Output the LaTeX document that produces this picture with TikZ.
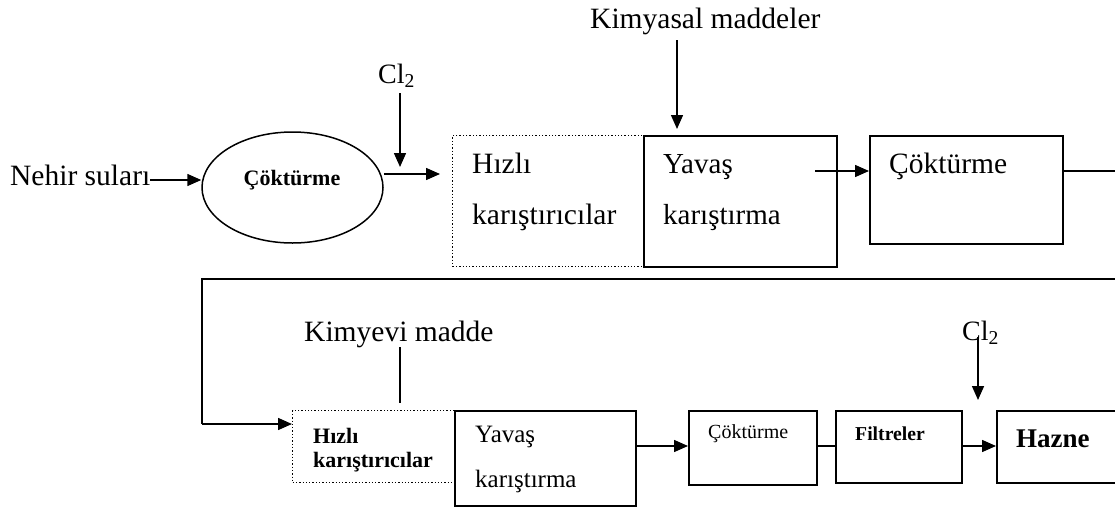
\documentclass[tikz,border=0pt]{standalone}
\usepackage{fontspec}
\setmainfont{Liberation Serif}
\usetikzlibrary{arrows.meta,shapes.geometric}
\tikzset{
 ln/.style={line width=1.5pt},
 arr/.style={line width=1.5pt,-{Triangle[length=14pt,width=12pt]}},
 box/.style={draw,line width=1.5pt,inner sep=0pt,anchor=north west},
 dbox/.style={draw,dotted,line width=1.3pt,inner sep=0pt,anchor=north west},
 lbl/.style={anchor=base west,inner sep=0pt},
}
\newcommand{\fsz}[1]{\fontsize{#1}{#1}\selectfont}
\begin{document}
\begin{tikzpicture}[x=1pt,y=-1pt]
\useasboundingbox (0,0) rectangle (1115,506);
\clip (0,0) rectangle (1115,506);

% ---------- top row ----------
\node[lbl,font=\fsz{29.5}] (nehir) at (10,185) {Nehir suları};
\node[draw,ellipse,line width=1.5pt,minimum width=181pt,minimum height=111pt,inner sep=0pt] (e1) at (292.5,187.5) {};
\node[anchor=base,font=\fsz{22}\bfseries,inner sep=0pt] (e1t) at (292,185) {Çöktürme};
\node[lbl,font=\fsz{28}] (cl1) at (378,83) {Cl\textsubscript{2}};
\node[lbl,font=\fsz{29.5}] (kim1) at (590,28) {Kimyasal maddeler};

\node[dbox,minimum width=191pt,minimum height=131pt] (hz1) at (452,135) {};
\node[box,minimum width=193pt,minimum height=131pt] (yv1) at (643,135) {};
\node[box,minimum width=193pt,minimum height=108pt] (ck1) at (869,135) {};

\node[lbl,font=\fsz{29.5}] (hz1a) at (472,173) {Hızlı};
\node[lbl,font=\fsz{29.5}] (hz1b) at (472,224) {karıştırıcılar};
\node[lbl,font=\fsz{29}] (yv1a) at (663,173) {Yavaş};
\node[lbl,font=\fsz{29}] (yv1b) at (663,224) {karıştırma};
\node[lbl,font=\fsz{29.5}] (ck1a) at (889,173) {Çöktürme};

\coordinate (cl1s) at (400,93);
\coordinate (cl1e) at (400,167);
\coordinate (km1s) at (677,40);
\coordinate (yvo) at (815,171);
\coordinate (r1) at (1120,171);
\coordinate (r2) at (1120,279);
\coordinate (l1) at (202,279);

\draw[arr] (nehir.east |- 0,180) -- (e1.west |- 0,180);
\draw[arr] (cl1s) -- (cl1e);
\draw[arr] (e1.east |- 0,174) -- ([xshift=-12pt]hz1.west |- 0,174);
\draw[arr] (km1s) -- ([yshift=6pt]yv1.north -| km1s);
\draw[arr] (yvo) -- (ck1.west |- yvo);
\draw[ln] (ck1.east |- yvo) -- (r1);

% ---------- connector between rows ----------
\draw[ln] (r2) -- (l1) -- (l1 |- 0,424) coordinate (l2);

% ---------- bottom row ----------
\node[lbl,font=\fsz{29.5}] (kim2) at (304,341) {Kimyevi madde};
\node[lbl,font=\fsz{28}] (cl2) at (962,340) {Cl\textsubscript{2}};

\node[dbox,minimum width=162pt,minimum height=72pt] (hz2) at (292,410) {};
\node[box,minimum width=181pt,minimum height=95pt] (yv2) at (454,410) {};
\node[box,minimum width=128pt,minimum height=74pt] (ck2) at (688,410) {};
\node[box,minimum width=126pt,minimum height=72pt] (fl) at (835,410) {};
\node[box,minimum width=130pt,minimum height=72pt] (hz) at (996,410) {};

\node[lbl,font=\fsz{22}\bfseries] (hz2a) at (313,443) {Hızlı};
\node[lbl,font=\fsz{22}\bfseries] (hz2b) at (313,467) {karıştırıcılar};
\node[lbl,font=\fsz{25}] (yv2a) at (475,442) {Yavaş};
\node[lbl,font=\fsz{25}] (yv2b) at (475,487) {karıştırma};
\node[lbl,font=\fsz{20}] (ck2a) at (708,438) {Çöktürme};
\node[lbl,font=\fsz{19.7}\bfseries] (fla) at (855,440) {Filtreler};
\node[lbl,font=\fsz{27}\bfseries] (hza) at (1016,447) {Hazne};

\draw[arr] (l2) -- (hz2.west |- l2);
\draw[ln] (400,347) -- ([yshift=7pt]hz2.north -| 400,0);
\draw[arr] (yv2.east |- 0,446) -- (ck2.west |- 0,446);
\draw[ln] (ck2.east |- 0,446) -- (fl.west |- 0,446);
\draw[arr] (fl.east |- 0,446) -- (hz.west |- 0,446);
\draw[arr] (978,337) -- (978,400);
\end{tikzpicture}
\end{document}
